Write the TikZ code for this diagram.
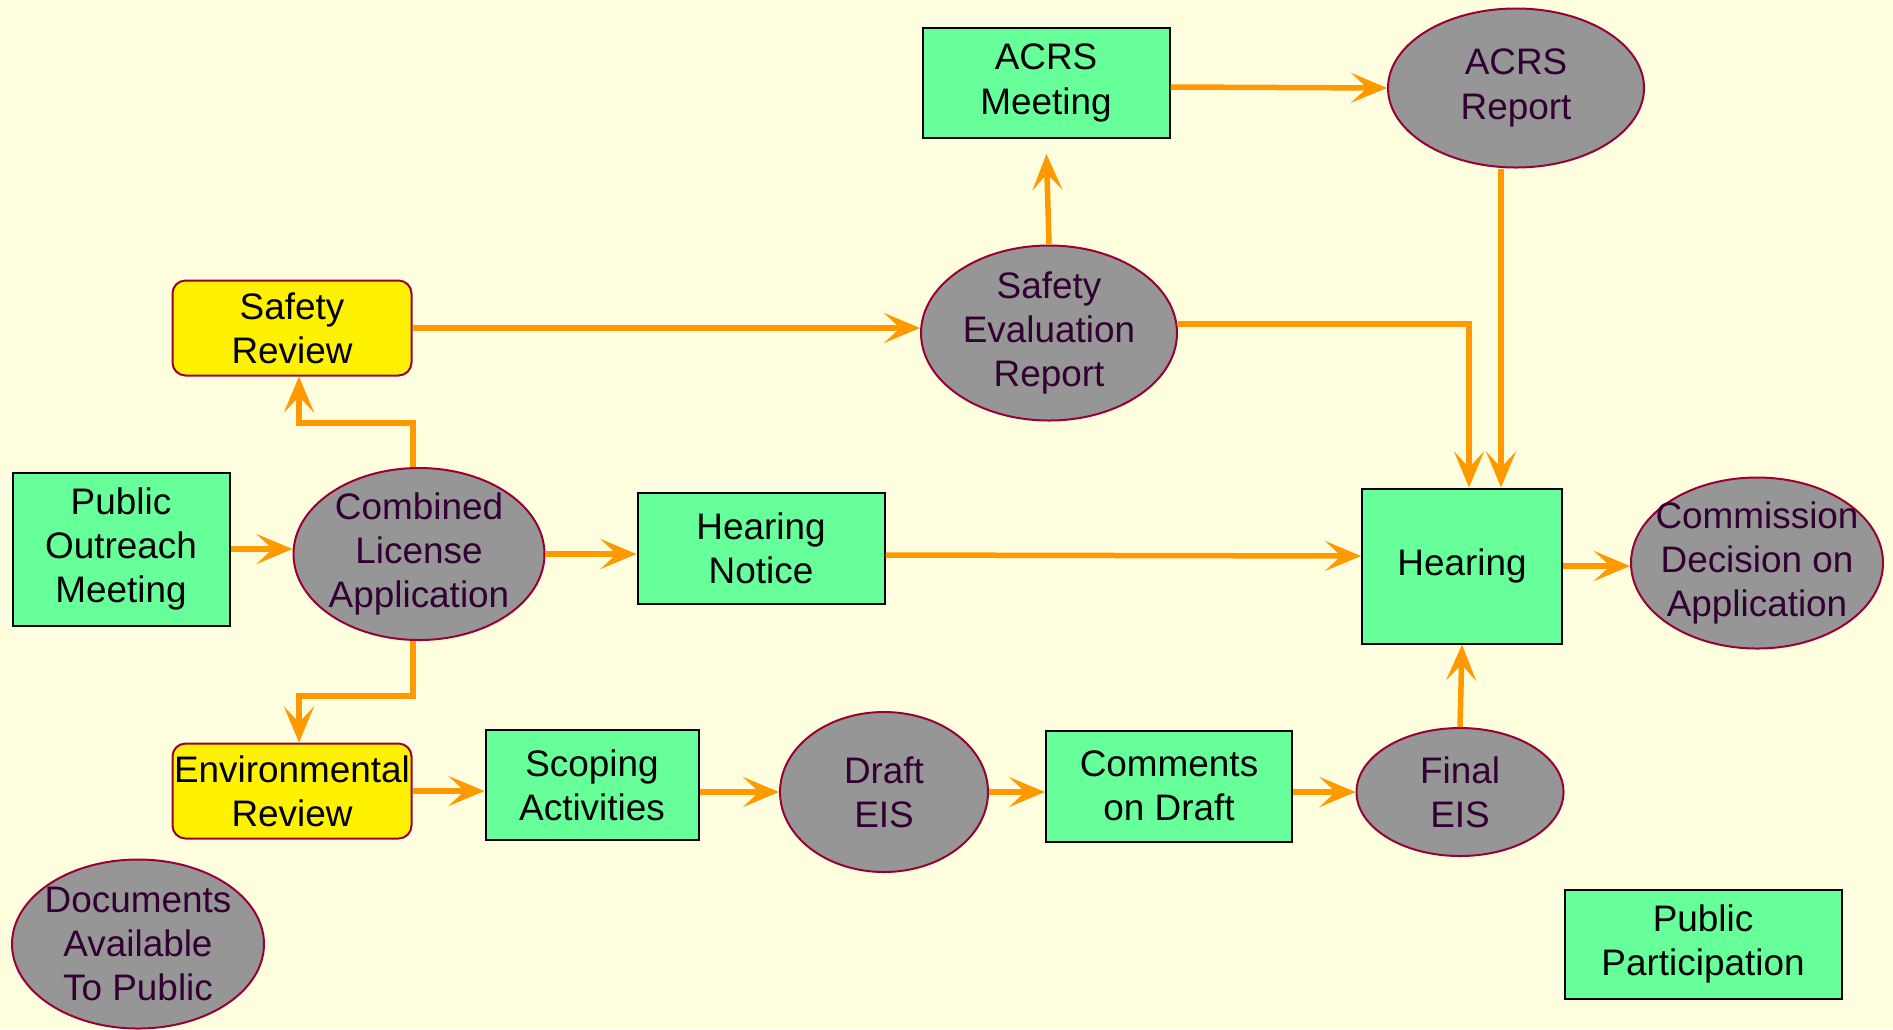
\documentclass[tikz,border=0pt]{standalone}
\usepackage{fontspec}
\setmainfont{Liberation Sans}
\usetikzlibrary{shapes.geometric, arrows.meta, positioning}
\definecolor{paper}{RGB}{255,255,224}
\definecolor{taskgreen}{RGB}{102,255,153}
\definecolor{docgray}{RGB}{150,150,150}
\definecolor{rimred}{RGB}{153,0,51}
\definecolor{inkpurple}{RGB}{51,0,51}
\definecolor{linkorange}{RGB}{255,153,0}
\tikzset{
x=0.1mm, y=-0.1mm, % one unit per pixel, y going down
>={Stealth[length=3.6mm, width=3mm, inset=1.6mm]}, % barbed heads
link/.style={->, draw=linkorange, line width=0.55mm}, % the orange connectors
task/.style={rectangle, draw=black, fill=taskgreen, line width=0.2mm, align=center, inner sep=0pt, font=\fontsize{10.5}{12.6}\selectfont}, % green boxes
doc/.style={ellipse, draw=rimred, fill=docgray, text=inkpurple, line width=0.2mm, align=center, inner sep=-5mm, font=\fontsize{10.5}{12.6}\selectfont}, % grey ovals
review/.style={rectangle, rounded corners=1.3mm, draw=rimred, fill=yellow, line width=0.2mm, align=center, inner sep=0pt, font=\fontsize{10.5}{12.6}\selectfont}, % yellow reviews
}
\begin{document}
\begin{tikzpicture}
    \fill[paper] (0,0) rectangle (1893,1029);
    \useasboundingbox (0,0) rectangle (1893,1029);
    \node[task, minimum width=24.7mm, minimum height=11mm] (acrsm) at (1046,83) {ACRS\\Meeting};
    \node[doc, minimum width=25.6mm, minimum height=15.9mm] (acrsr) at (1516,88) {ACRS\\Report};
    \node[review, minimum width=23.9mm, minimum height=9.5mm] (safety) at (292,328) {Safety\\Review};
    \node[doc, minimum width=25.6mm, minimum height=17.5mm] (ser) at (1049,333) {Safety\\Evaluation\\Report};
    \node[task, minimum width=21.7mm, minimum height=15.3mm] (outreach) at (121,549) {Public\\Outreach\\Meeting};
    \node[doc, minimum width=25.1mm, minimum height=17.2mm] (cla) at (419,554) {Combined\\License\\Application};
    \node[task, minimum width=24.7mm, minimum height=11.1mm] (notice) at (761,548) {Hearing\\Notice};
    \node[task, minimum width=20mm, minimum height=15.5mm] (hearing) at (1462,566) {Hearing};
    \node[doc, minimum width=25.2mm, minimum height=17.1mm] (decision) at (1757,563) {Commission\\Decision on\\Application};
    \node[review, minimum width=23.9mm, minimum height=9.5mm] (env) at (292,791) {Environmental\\Review};
    \node[task, minimum width=21.3mm, minimum height=11mm] (scoping) at (592,785) {Scoping\\Activities};
    \node[doc, minimum width=20.8mm, minimum height=16mm] (draft) at (884,792) {Draft\\EIS};
    \node[task, minimum width=24.6mm, minimum height=11.1mm] (comments) at (1169,786) {Comments\\on Draft};
    \node[doc, minimum width=20.7mm, minimum height=12.8mm] (final) at (1460,792) {Final\\EIS};
    \node[doc, minimum width=25.2mm, minimum height=16.9mm] (docs) at (138,944) {Documents\\Available\\To Public};
    \node[task, minimum width=27.7mm, minimum height=10.9mm] (participation) at (1703,944) {Public\\Participation};
    % safety branch
    \draw[link] ([yshift=-0.4mm]acrsm.east) -- (acrsr.west);
    \draw[link, shorten >=1.5mm] (ser.north) -- (acrsm.south);
    \draw[link] (safety.east) -- (safety.east -| ser.west);
    \draw[link] ([yshift=0.9mm]ser.east) -| ([xshift=0.7mm]hearing.north);
    \draw[link] ([xshift=-1.5mm]acrsr.south) -- ([xshift=-1.5mm]acrsr.south |- hearing.north);
    \draw[link] ([xshift=-0.6mm]cla.north) -- ++(0,-44) -| ([xshift=0.7mm]safety.south);
    % main line
    \draw[link] (outreach.east) -- (outreach.east -| cla.west);
    \draw[link] (cla.east) -- (cla.east -| notice.west);
    \draw[link] ([yshift=-0.7mm]notice.east) -- ([yshift=1mm]hearing.west);
    \draw[link] (hearing.east) -- (hearing.east -| decision.west);
    % environmental branch
    \draw[link] ([xshift=-0.6mm]cla.south) -- ++(0,55) -| ([xshift=0.7mm]env.north);
    \draw[link] (env.east) -- (env.east -| scoping.west);
    \draw[link] (scoping.east |- draft.west) -- (draft.west);
    \draw[link] (draft.east) -- (draft.east -| comments.west);
    \draw[link] (comments.east |- final.west) -- (final.west);
    \draw[link] (final.north) -- (hearing.south);
\end{tikzpicture}
\end{document}
